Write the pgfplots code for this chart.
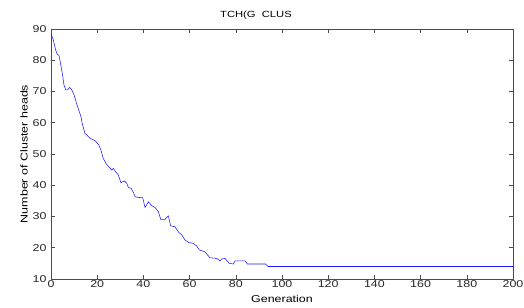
\documentclass[border=0pt]{standalone}
\usepackage{fontspec}
\setmainfont{Liberation Sans}[FakeStretch=1.25]
\usepackage{pgfplots}
\pgfplotsset{compat=1.18}
\begin{document}
\fontsize{10}{12}\selectfont
\begin{tikzpicture}
\begin{axis}[
  scale only axis,
  width=462bp, height=250bp,
  xmin=0, xmax=200, ymin=10, ymax=90,
  xtick={0,20,...,200}, ytick={10,20,...,90},
  tick align=inside,
  major tick length=4bp,
  axis line style={black!70, line width=0.6pt},
  tick style={black!70, line width=0.6pt},
  /pgf/number format/assume math mode=true,
  tick label style={font=\fontsize{10}{12}\selectfont, black!85},
  xticklabel style={yshift=2bp},
  yticklabel style={xshift=-1bp},
  xlabel={Generation},
  ylabel={Number of Cluster heads},
  xlabel style={font=\fontsize{10}{12}\selectfont, yshift=-1bp},
  ylabel style={font=\fontsize{10}{12}\selectfont, yshift=-2bp},
  title={TCH(G\ \ CLUS},
  title style={font=\fontsize{9}{11}\selectfont, yshift=0bp, xshift=-26bp},
]
\addplot[blue!90, line width=0.55pt] coordinates {
(0,88.6) (1,86.5) (2,83.3) (2.7,81.9) (3.5,81.5) (4,79.5) (5,75.3) (5.6,72.1)
(6.4,70.5) (7.2,70.5) (8,71.3) (9,70.5) (10,68.9) (11,66.3) (12,64.1) (13,61.9)
(13.5,59.8) (14.7,56.6) (17,55.0) (19,54.3) (20.7,52.9) (21.6,51.3) (22.6,48.6)
(23.8,47.0) (25,45.9) (26.3,44.9) (27,45.4) (28,44.3) (29.1,43.3) (30.3,40.8)
(31.7,41.4) (32.8,40.6) (33.5,39.3) (34.7,39.0) (35.7,37.6) (36.5,36.3) (37.9,36.1)
(39.7,36.0) (40.7,32.9) (42.2,34.7) (43.7,33.4) (45,32.9) (46.5,31.5) (47.5,29.1)
(49.4,29.1) (50.8,30.2) (51.8,27.0) (53.7,26.7) (55.1,25.1) (56.6,24.1) (58,22.5)
(59.5,21.7) (61.6,21.4) (63,20.6) (64.2,19.3) (66.6,18.7) (68.8,16.8) (71.7,16.6)
(73.2,15.8) (73.9,16.4) (75.3,16.6) (77.2,15.0) (78.9,14.8) (79.7,15.8) (84,15.8)
(85,14.8) (92.9,14.8) (93.9,14.0) (200,14.0)
};
\coordinate (sw) at (rel axis cs:0,0);
\coordinate (ne) at (rel axis cs:1,1);
\end{axis}
\pgfresetboundingbox
\path[use as bounding box] ([shift={(-51bp,-29bp)}]sw) rectangle ([shift={(11bp,29bp)}]ne);
\end{tikzpicture}
\end{document}
